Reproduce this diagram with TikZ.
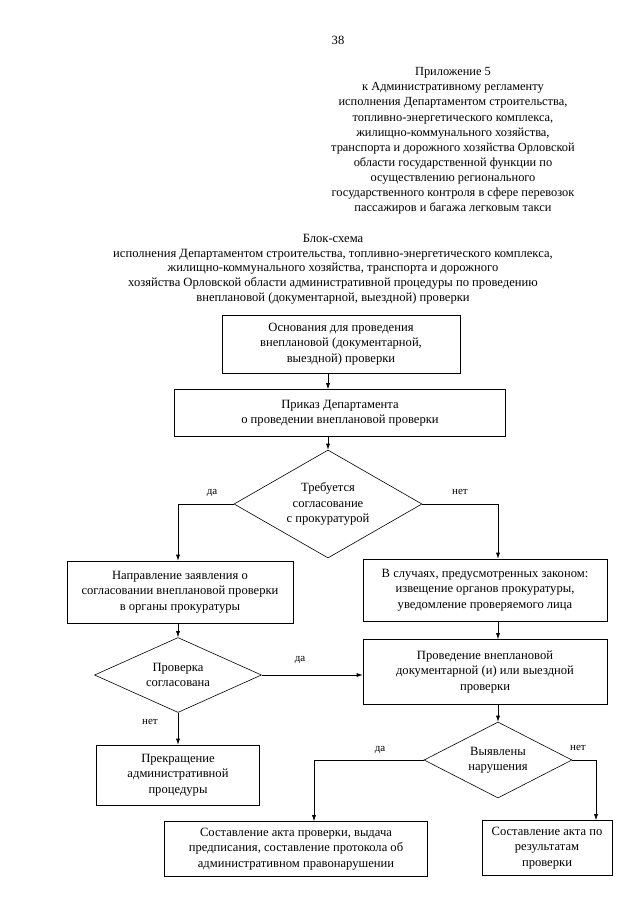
\documentclass[tikz,border=0pt]{standalone}
\usepackage{fontspec}
\setmainfont{Liberation Serif}
\usetikzlibrary{arrows.meta,shapes.geometric}

\tikzset{
  blok/.style={draw, line width=.6pt, align=center, inner sep=2pt},
  romb/.style={draw, diamond, line width=.6pt, align=center, inner sep=0pt},
  metka/.style={font=\fontsize{11}{13}\selectfont},
  strelka/.style={line width=.6pt, ->},
}

\begin{document}
\begin{tikzpicture}[x=1pt, y=-1pt, >={Latex[length=6pt,width=4pt]},
  font=\fontsize{12.6}{15.5}\selectfont]
\useasboundingbox (0,0) rectangle (640,905);

% шапка
\node (nomer) at (338,40) {38};
\node[align=center, font=\fontsize{12.4}{15.1}\selectfont] (prilozh) at (453,141)
  {Приложение 5\\
   к Административному регламенту\\
   исполнения Департаментом строительства,\\
   топливно-энергетического комплекса,\\
   жилищно-коммунального хозяйства,\\
   транспорта и дорожного хозяйства Орловской\\
   области государственной функции по\\
   осуществлению регионального\\
   государственного контроля в сфере перевозок\\
   пассажиров и багажа легковым такси};
\node[align=center, font=\fontsize{12.6}{14.7}\selectfont] (zagol) at (333,269)
  {Блок-схема\\
   исполнения Департаментом строительства, топливно-энергетического комплекса,\\
   жилищно-коммунального хозяйства, транспорта и дорожного\\
   хозяйства Орловской области административной процедуры по проведению\\
   внеплановой (документарной, выездной) проверки};

% блоки
\node[blok, minimum width=238, minimum height=58] (osn) at (341,344)
  {Основания для проведения\\ внеплановой (документарной,\\ выездной) проверки};
\node[blok, minimum width=331, minimum height=47] (prikaz) at (340,413)
  {Приказ Департамента\\ о проведении внеплановой проверки};
\node[romb, minimum width=188, minimum height=108, shape aspect=1.74] (treb) at (328,504)
  {Требуется\\ согласование\\ с прокуратурой};
\node[blok, minimum width=226, minimum height=62] (napr) at (180,592)
  {Направление заявления о\\ согласовании внеплановой проверки\\ в органы прокуратуры};
\node[blok, minimum width=244, minimum height=62] (sluch) at (485,590)
  {В случаях, предусмотренных законом:\\ извещение органов прокуратуры,\\ уведомление проверяемого лица};
\node[romb, minimum width=167, minimum height=75, shape aspect=2.2] (sogl) at (178,675)
  {Проверка\\ согласована};
\node[blok, minimum width=244, minimum height=65] (provd) at (485,672)
  {Проведение внеплановой\\ документарной (и) или выездной\\ проверки};
\node[blok, minimum width=163, minimum height=60] (prekr) at (178,775)
  {Прекращение\\ административной\\ процедуры};
\node[romb, minimum width=148, minimum height=76, shape aspect=1.95] (vyyav) at (498,760)
  {Выявлены\\ нарушения};
\node[blok, minimum width=263, minimum height=55] (akt1) at (296,849)
  {Составление акта проверки, выдача\\ предписания, составление протокола об\\ административном правонарушении};
\node[blok, minimum width=130, minimum height=55] (akt2) at (547,848)
  {Составление акта по\\ результатам\\ проверки};

% точки поворота
\coordinate (povl) at (314,760);
\coordinate (povp) at (596,760);

% связи
\draw[strelka] (osn.south -| treb) -- (prikaz.north -| treb);
\draw[strelka] (prikaz.south -| treb) -- (treb.north);
\draw[strelka] (treb.west) -| (sogl |- napr.north);
\draw[strelka] (treb.east) -| (vyyav |- sluch.north);
\draw[strelka] (napr.south -| sogl) -- (sogl.north);
\draw[strelka] (sluch.south -| vyyav) -- (provd.north -| vyyav);
\draw[strelka] (sogl.east) -- (provd.west |- sogl.east);
\draw[strelka] (sogl.south) -- (prekr.north -| sogl);
\draw[strelka] (provd.south -| vyyav) -- (vyyav.north);
\draw[strelka] (vyyav.west) -- (povl) -- (povl |- akt1.north);
\draw[strelka] (vyyav.east) -- (povp) -- (povp |- akt2.north);

% подписи
\node[metka] (da1) at (212,493) {да};
\node[metka] (net1) at (460,492) {нет};
\node[metka] (da2) at (300,660) {да};
\node[metka] (net2) at (150,722) {нет};
\node[metka] (da3) at (380,750) {да};
\node[metka] (net3) at (578,748) {нет};
\end{tikzpicture}
\end{document}
